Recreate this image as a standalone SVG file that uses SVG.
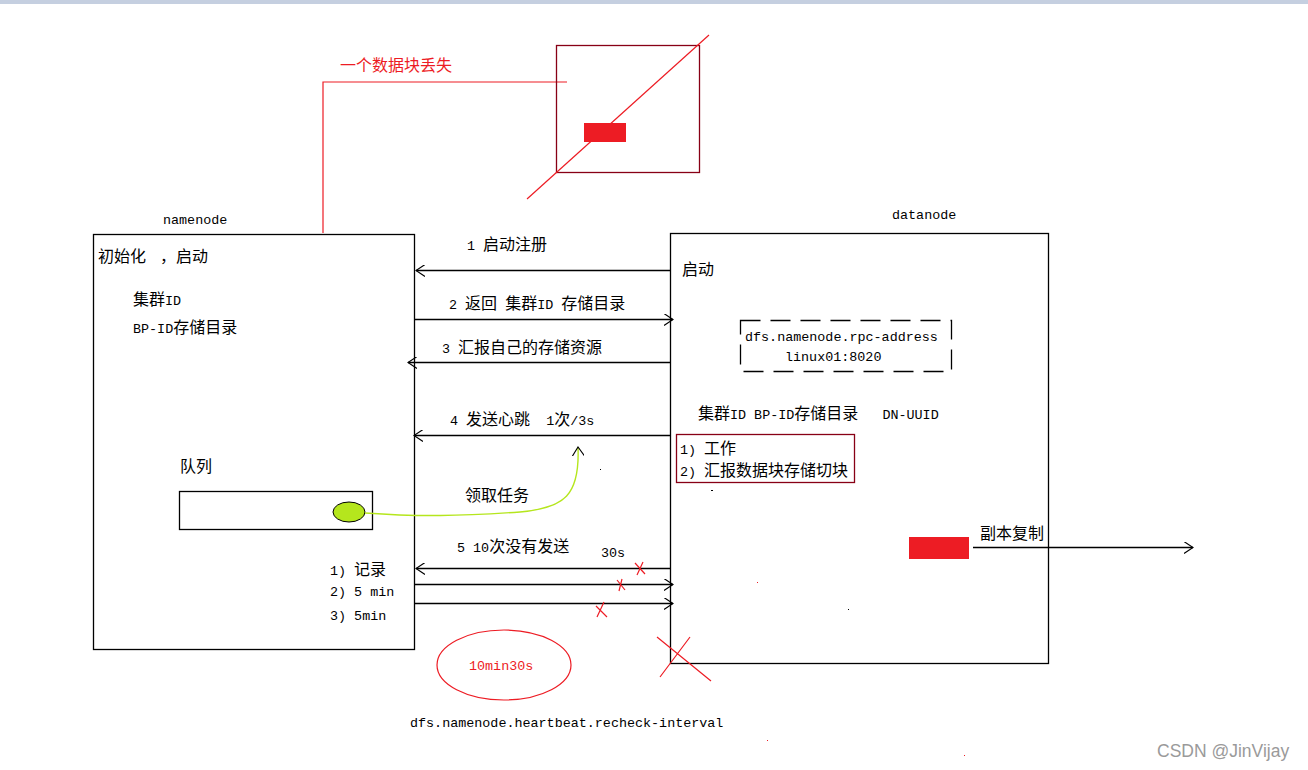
<svg xmlns="http://www.w3.org/2000/svg" width="1308" height="770" viewBox="0 0 1308 770">
<style>
text{white-space:pre}
.cn{font-family:"Noto Sans CJK SC","Liberation Sans",sans-serif;font-size:16px;fill:#000}
.m{font-family:"Liberation Mono","Noto Sans CJK SC",monospace;font-size:13.4px;fill:#000}
.red{fill:#ed1c24}
.ln{stroke:#000;stroke-width:1.3;fill:none}
.rl{stroke:#ed1c24;stroke-width:1.2;fill:none}
</style>
<defs>
<marker id="ah" viewBox="0 0 10 12" refX="9" refY="6" markerWidth="10" markerHeight="12" markerUnits="userSpaceOnUse" orient="auto">
<polyline points="0,0 9,6 0,12" fill="none" stroke="#000" stroke-width="1.1"/>
</marker>
</defs>
<rect x="0" y="0" width="1308" height="770" fill="#fff"/>
<rect x="0" y="0" width="1308" height="4" fill="#c5cfe0"/>

<g id="lost-block">
<polyline class="rl" points="323,233 323,82 567,82"/>
<text x="340" y="71" class="cn red">一个数据块丢失</text>
<rect x="556.5" y="45.5" width="143" height="127" fill="none" stroke="#880015" stroke-width="1.3"/>
<line class="rl" x1="527" y1="199" x2="709" y2="35"/>
<rect x="584" y="123" width="42" height="19" fill="#ed1c24"/>
</g>

<g id="namenode">
<text x="163" y="224" class="m">namenode</text>
<rect x="93.5" y="234.5" width="321" height="415" class="ln"/>
<text x="98" y="262" class="cn">初始化</text>
<text x="160" y="262" class="cn">，启动</text>
<text x="133" y="305" class="cn">集群<tspan class="m">ID</tspan></text>
<text x="133" y="333" class="cn"><tspan class="m">BP-ID</tspan>存储目录</text>
<text x="180" y="472" class="cn">队列</text>
<rect x="179.5" y="491.5" width="193" height="38" class="ln"/>
<ellipse cx="349" cy="512" rx="16" ry="10" fill="#b5e61d" stroke="#000" stroke-width="1"/>
<text x="330" y="575" class="cn"><tspan class="m">1) </tspan>记录</text>
<text x="330" y="596" class="m">2) 5 min</text>
<text x="330" y="620" class="m">3) 5min</text>
</g>

<g id="datanode">
<text x="892" y="219" class="m">datanode</text>
<rect x="670.5" y="233.5" width="378" height="430" class="ln"/>
<text x="682" y="275" class="cn">启动</text>
<rect x="740.5" y="320.5" width="211" height="51" fill="none" stroke="#000" stroke-width="1.3" stroke-dasharray="20,10"/>
<text x="745" y="341" class="m">dfs.namenode.rpc-address</text>
<text x="785" y="361" class="m">linux01:8020</text>
<text x="698" y="419" class="cn">集群<tspan class="m">ID BP-ID</tspan>存储目录<tspan class="m">   DN-UUID</tspan></text>
<rect x="676.5" y="434.5" width="178" height="48" fill="none" stroke="#880015" stroke-width="1.3"/>
<text x="680" y="454" class="cn"><tspan class="m">1) </tspan>工作</text>
<text x="680" y="476" class="cn"><tspan class="m">2) </tspan>汇报数据块存储切块</text>
<rect x="909" y="537" width="60" height="22" fill="#ed1c24"/>
<text x="980" y="539" class="cn">副本复制</text>
</g>

<g id="connectors">
<line class="ln" x1="670" y1="270.5" x2="416" y2="270.5" marker-end="url(#ah)"/>
<text x="467" y="250" class="cn"><tspan class="m">1 </tspan>启动注册</text>
<line class="ln" x1="414" y1="319.5" x2="673" y2="319.5" marker-end="url(#ah)"/>
<text x="449" y="309" class="cn"><tspan class="m">2 </tspan>返回<tspan class="m"> </tspan>集群<tspan class="m">ID </tspan>存储目录</text>
<line class="ln" x1="670" y1="362.5" x2="408" y2="362.5" marker-end="url(#ah)"/>
<text x="442" y="353" class="cn"><tspan class="m">3 </tspan>汇报自己的存储资源</text>
<line class="ln" x1="670" y1="435.5" x2="414" y2="435.5" marker-end="url(#ah)"/>
<text x="450" y="425" class="cn"><tspan class="m">4 </tspan>发送心跳<tspan class="m">  1</tspan>次<tspan class="m">/3s</tspan></text>
<path d="M365,513 C420,517 460,516 520,512 C565,508 580,495 578,447" fill="none" stroke="#b5e61d" stroke-width="1.4" marker-end="url(#ah)"/>
<text x="465" y="501" class="cn">领取任务</text>
<text x="457" y="552" class="cn"><tspan class="m">5 10</tspan>次没有发送</text>
<text x="601" y="557" class="m">30s</text>
<line class="ln" x1="670" y1="568.5" x2="416" y2="568.5" marker-end="url(#ah)"/>
<line class="ln" x1="414" y1="584.5" x2="673" y2="584.5" marker-end="url(#ah)"/>
<line class="ln" x1="414" y1="603.5" x2="673" y2="603.5" marker-end="url(#ah)"/>
<line class="ln" x1="973" y1="547.5" x2="1193" y2="547.5" marker-end="url(#ah)"/>
</g>

<g id="marks">
<path class="rl" d="M635,563 L645,574 M643,562 L637,575"/>
<path class="rl" d="M617,580 L625,590 M622,579 L619,591"/>
<path class="rl" d="M596,606 L607,617 M604,602 L597,617"/>
<path class="rl" d="M657,637 L711,681 M690,637 L660,677"/>
<ellipse cx="504" cy="665" rx="67" ry="35" class="rl"/>
<text x="469" y="670" class="m red">10min30s</text>
<text x="410" y="727" class="m">dfs.namenode.heartbeat.recheck-interval</text>
<rect x="600" y="469" width="1" height="1" fill="#000"/>
<rect x="711" y="490" width="2" height="1" fill="#000"/>
<rect x="757" y="582" width="1" height="1" fill="#ed1c24"/>
<rect x="848" y="609" width="1" height="1" fill="#000"/>
<rect x="767" y="740" width="1" height="1" fill="#ed1c24"/>
<rect x="964" y="755" width="1" height="1" fill="#ed1c24"/>
</g>

<text x="1157" y="757" style="font-family:'Liberation Sans',sans-serif;font-size:17.5px;fill:#9a9a9a">CSDN @JinVijay</text>
</svg>
